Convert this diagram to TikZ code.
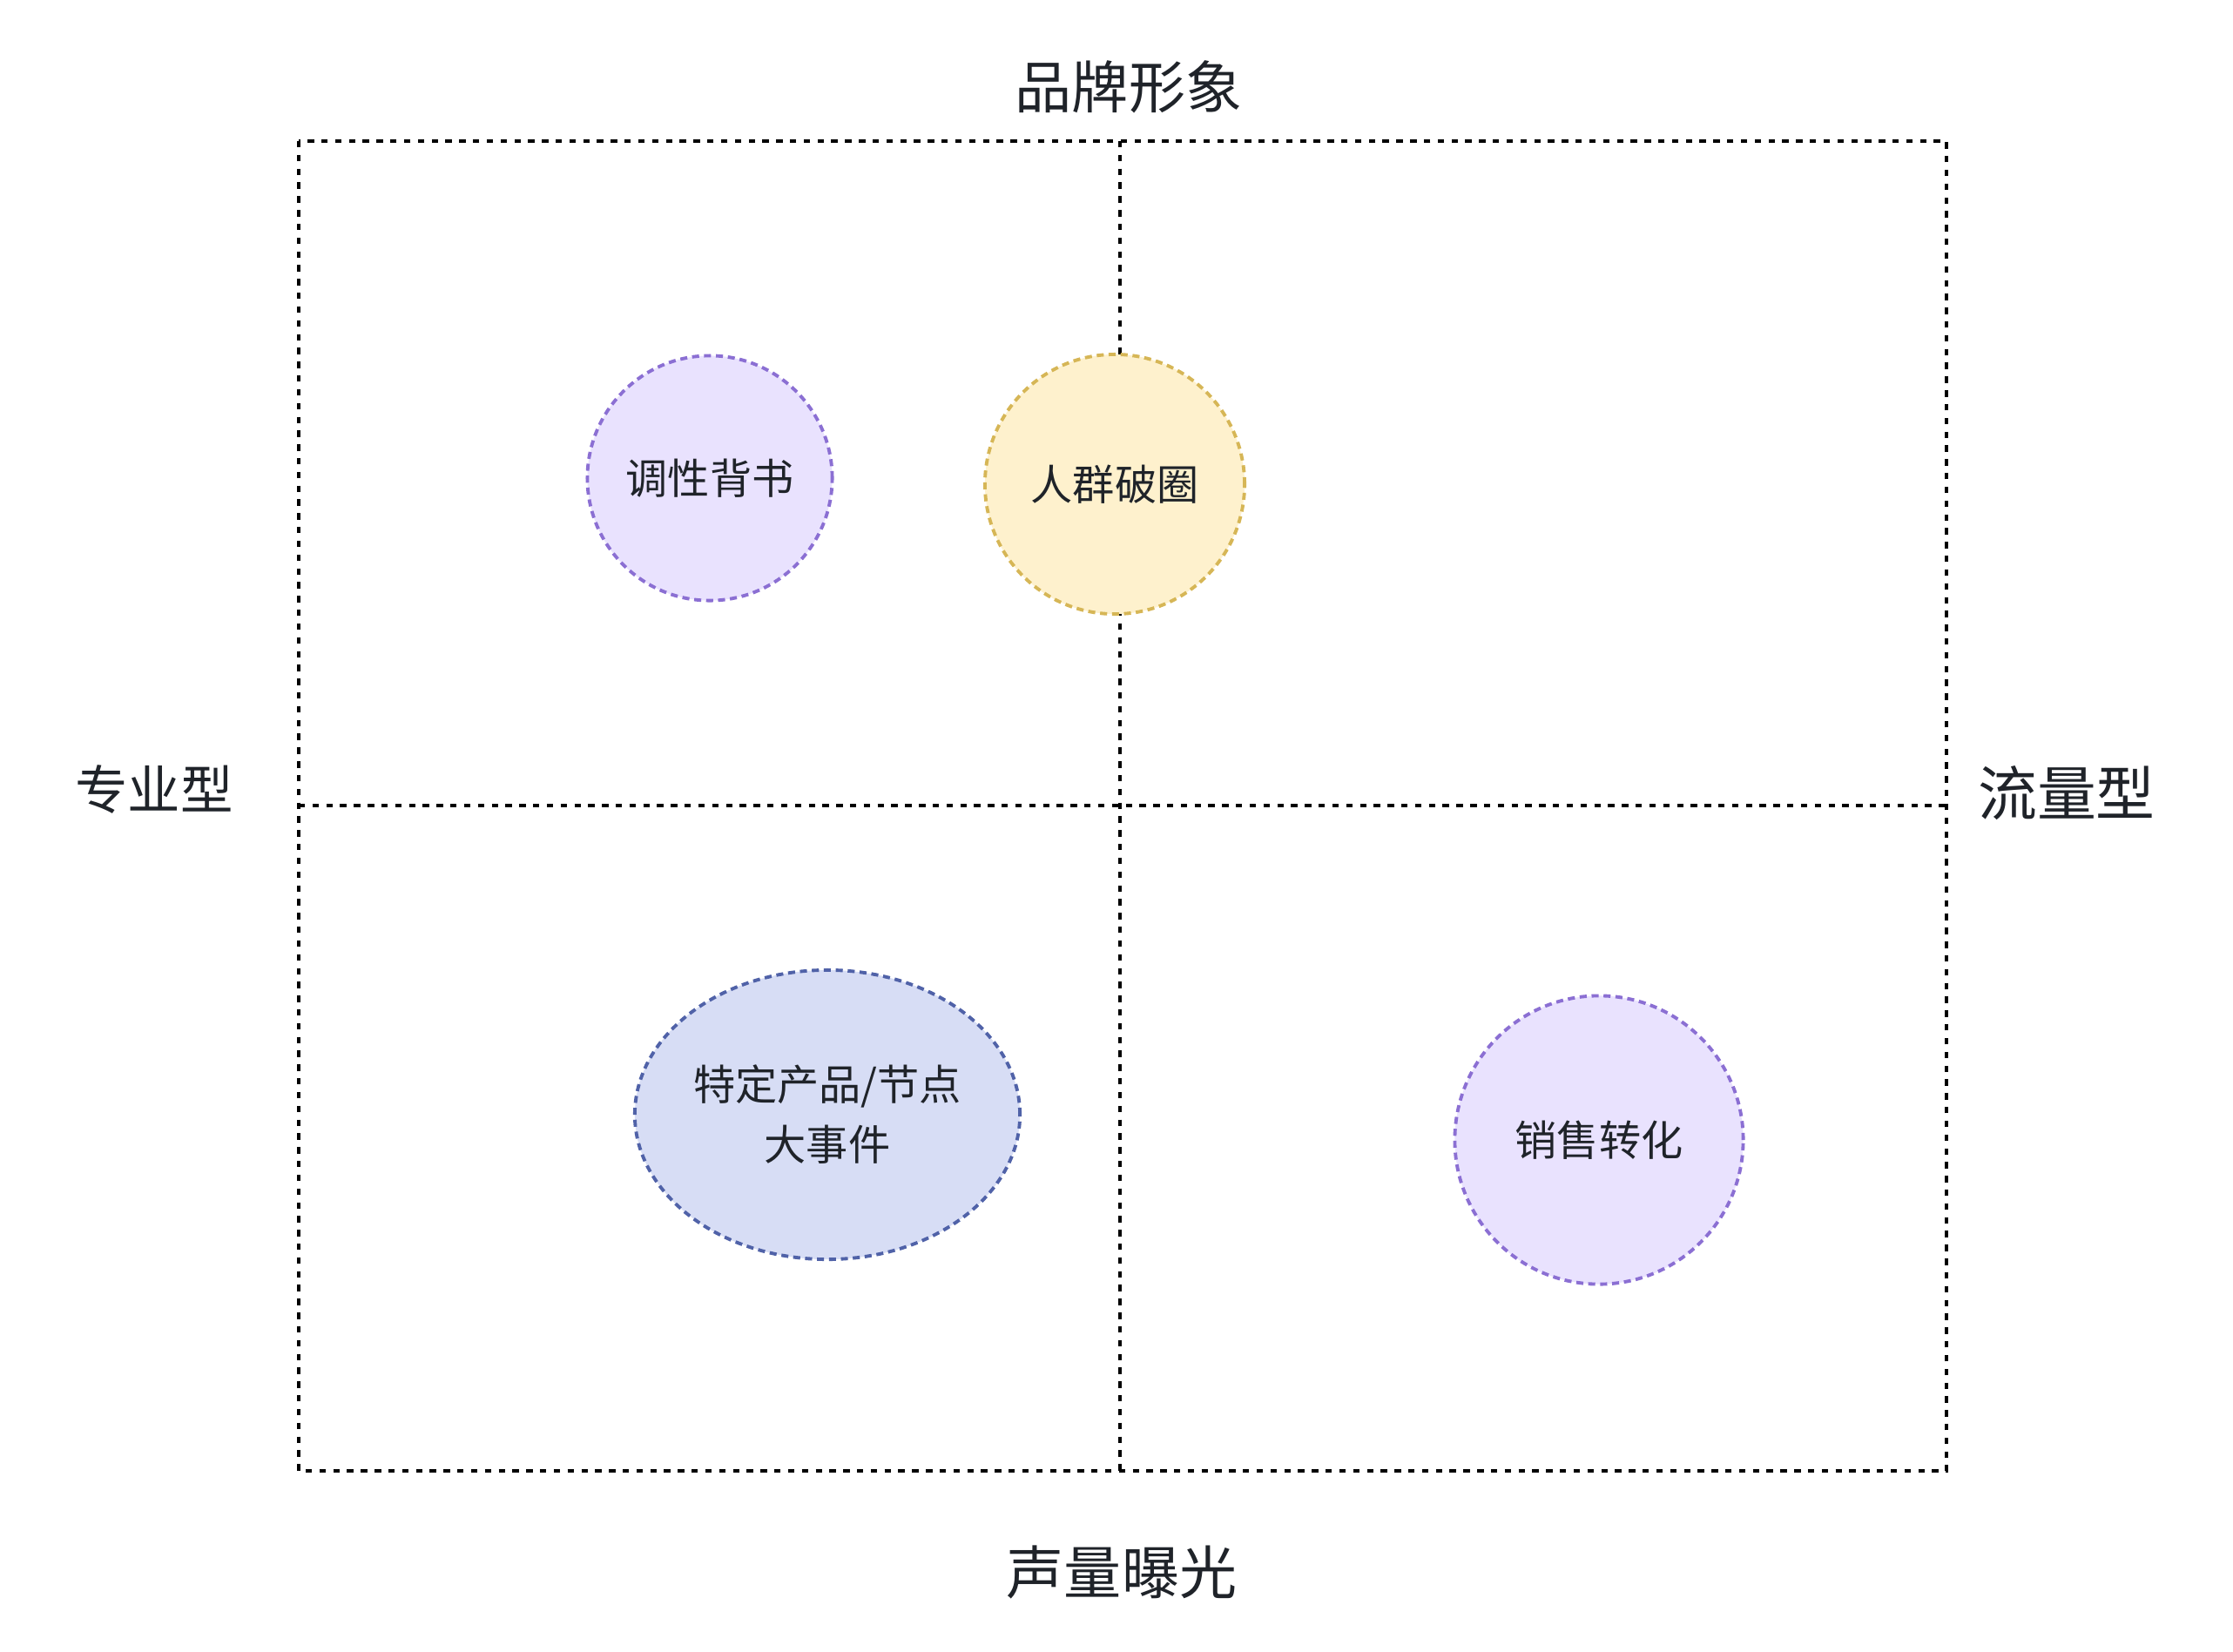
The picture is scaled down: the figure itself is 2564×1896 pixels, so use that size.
\documentclass[tikz,border=0pt]{standalone}
\usepackage{fontspec}
\setmainfont{Noto Sans CJK SC}
\usepackage{tikz}
\usetikzlibrary{shapes.geometric}

\definecolor{inkgray}{HTML}{1F2329}
\definecolor{lavfill}{HTML}{E9E2FE}
\definecolor{lavline}{HTML}{8B6FD3}
\definecolor{sandfill}{HTML}{FEF1CD}
\definecolor{sandline}{HTML}{D6B656}
\definecolor{bluefill}{HTML}{D7DDF5}
\definecolor{blueline}{HTML}{5062A8}

\begin{document}
\begin{tikzpicture}[x=0.01cm,y=-0.01cm,
  gridline/.style={line width=1.15pt,dash pattern=on 2.1pt off 2.4pt},
  axislabel/.style={text=inkgray,inner sep=0pt},
  bubble/.style={circle,line width=1.1pt,dash pattern=on 2.3pt off 1.6pt,
    inner sep=0pt,text=inkgray,font=\fontsize{13.7pt}{19.6pt}\selectfont,align=center}]
  \useasboundingbox (0,0) rectangle (2564,1896);
  % quadrant grid
  \draw[gridline] (343,162) rectangle (2235,1689);
  \draw[gridline] (1286,162) -- (1286,1689);
  \draw[gridline] (343,925) -- (2235,925);
  % axis labels
  \node[axislabel,font=\fontsize{18.5pt}{22pt}\selectfont] (brand) at (1296,100) {品牌形象};
  \node[axislabel,font=\fontsize{18.8pt}{22pt}\selectfont] (voice) at (1288,1805) {声量曝光};
  \node[axislabel,font=\fontsize{17.2pt}{22pt}\selectfont] (expert) at (177,906) {专业型};
  \node[axislabel,font=\fontsize{19.3pt}{22pt}\selectfont] (traffic) at (2373,911) {流量型};
  % bubbles
  \node[bubble,draw=lavline,fill=lavfill,minimum size=2.81cm] (tone) at (815,549) {调性背书};
  \node[bubble,draw=sandline,fill=sandfill,minimum size=2.98cm] (crowd) at (1280,556) {人群破圈};
  \node[bubble,ellipse,draw=blueline,fill=bluefill,minimum width=4.42cm,minimum height=3.32cm] (event) at (950,1280) {特定产品/节点\\大事件};
  \node[bubble,draw=lavline,fill=lavfill,minimum size=3.31cm] (sales) at (1836,1309) {销售转化};
\end{tikzpicture}
\end{document}
